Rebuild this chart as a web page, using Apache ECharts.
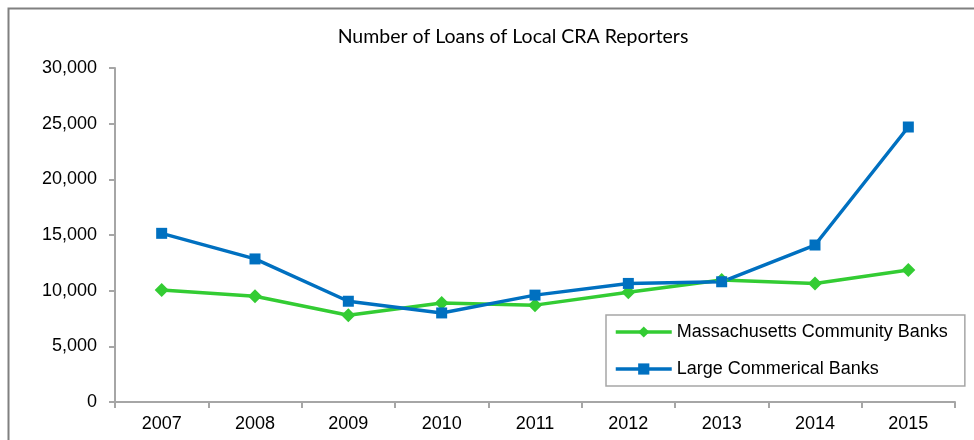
<!DOCTYPE html>
<html>
<head>
<meta charset="utf-8">
<script src="https://cdn.jsdelivr.net/npm/echarts@6/dist/echarts.min.js"></script>
<style>html,body{margin:0;padding:0;background:#fff}#c{width:974px;height:440px}</style>
</head>
<body>
<div id="c"></div>
<script>
const categories = ['2007','2008','2009','2010','2011','2012','2013','2014','2015'];
const massCommunity = [10050, 9500, 7800, 8900, 8700, 9850, 10950, 10650, 11850];
const largeCommercial = [15150, 12850, 9050, 8000, 9600, 10650, 10800, 14100, 24700];
const seriesNames = ['Massachusetts Community Banks', 'Large Commerical Banks'];
const titleText = 'Number of Loans of Local CRA Reporters';

const chart = echarts.init(document.getElementById('c'), null, {renderer: 'canvas'});
const font = 'Liberation Sans, Arial, sans-serif';
chart.setOption({
  animation: false,
  graphic: [{
    type: 'rect', left: 6, top: 6,
    shape: {width: 1000, height: 500},
    style: {fill: 'none', stroke: '#808080', lineWidth: 2},
    silent: true, z: -1
  }, {
    type: 'text', x: 513, y: 37,
    style: {text: titleText, textAlign: 'center', textVerticalAlign: 'middle',
      font: '19.5px Lato, Carlito, sans-serif', fill: '#000'},
    silent: true
  }],
  grid: {left: 115, top: 68, right: 19, bottom: 38, containLabel: false},
  legend: {
    orient: 'vertical', left: 606, top: 315,
    backgroundColor: '#fff', borderColor: '#a6a6a6', borderWidth: 1.5,
    padding: [8, 17, 8, 8], itemGap: 19, itemWidth: 56, itemHeight: 14,
    textStyle: {fontFamily: font, fontSize: 18, color: '#000'},
    lineStyle: {width: 3.5},
    data: seriesNames
  },
  xAxis: {
    type: 'category', data: categories, boundaryGap: true,
    axisLine: {lineStyle: {color: '#a6a6a6', width: 2}},
    axisTick: {show: true, length: 6, lineStyle: {color: '#a6a6a6', width: 2}},
    axisLabel: {fontFamily: font, fontSize: 18, color: '#000', margin: 13}
  },
  yAxis: {
    type: 'value', min: 0, max: 30000, interval: 5000,
    splitLine: {show: false},
    axisLine: {show: true, lineStyle: {color: '#a6a6a6', width: 2}},
    axisTick: {show: true, length: 6, lineStyle: {color: '#a6a6a6', width: 2}},
    axisLabel: {fontFamily: font, fontSize: 18, color: '#000', margin: 18,
      formatter: v => v.toLocaleString('en-US')}
  },
  series: [
    {
      name: seriesNames[0], type: 'line', data: massCommunity,
      symbol: 'diamond', symbolSize: 14,
      lineStyle: {color: '#33CC33', width: 3.5},
      itemStyle: {color: '#33CC33'}
    },
    {
      name: seriesNames[1], type: 'line', data: largeCommercial,
      symbol: 'rect', symbolSize: 11,
      lineStyle: {color: '#0070C0', width: 3.5},
      itemStyle: {color: '#0070C0'}
    }
  ]
});
</script>
</body>
</html>
